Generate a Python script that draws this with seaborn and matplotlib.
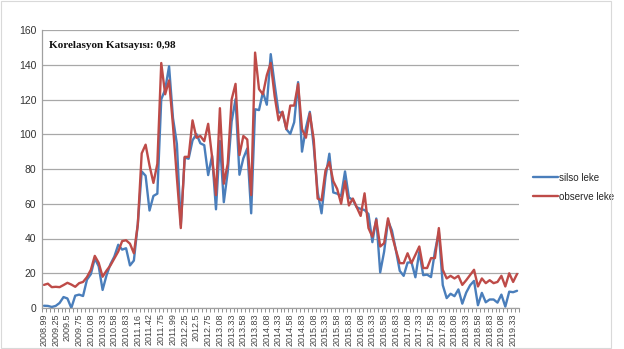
# Sunspot counts: SILSO vs observed, with correlation note
import numpy as np
import pandas as pd
import matplotlib
matplotlib.use('Agg')
import matplotlib.pyplot as plt
from matplotlib.patches import Rectangle
import seaborn as sns

silso_leke = [
    1.3, 1.2, 0.6, 1.2, 2.9, 6.3, 5.5, 0.0, 7.1, 7.7, 6.9, 16.3,
    19.5, 28.5, 24.0, 10.4, 18.8, 25.2, 29.6, 36.4, 33.6, 34.4, 24.5,
    27.3, 48.3, 78.6, 76.1, 56.1, 64.5, 65.8, 120.1, 125.7, 139.1, 109.3,
    94.4, 47.8, 86.6, 85.9, 96.5, 100.1, 94.8, 93.7, 76.5, 87.6, 56.8,
    96.1, 60.9, 78.3, 107.3, 120.2, 76.7, 86.2, 91.8, 54.5, 114.4, 113.9, 124.2,
    117.0, 146.1, 128.7, 112.5, 112.5, 102.9, 100.2, 106.9, 130.0, 90.0, 103.6, 112.9,
    93.0, 66.7, 54.5, 75.3, 88.8, 66.5, 65.8, 64.4, 78.6, 63.6, 62.2, 58.0,
    57.0, 56.4, 54.1, 37.9, 51.5, 20.5, 32.4, 50.2, 44.6, 33.4, 21.4, 18.5,
    26.1, 26.4, 17.7, 32.3, 18.9, 19.2, 17.8, 32.6, 43.7, 13.2, 5.7, 8.2,
    6.8, 10.7, 2.5, 8.9, 13.1, 15.6, 1.6, 8.7, 3.3, 4.9, 4.9, 3.1,
    7.7, 0.8, 9.4, 9.1, 9.9,
]

observe_leke = [
    13.3, 14, 12, 12.2, 12, 13.2, 14.5, 13.5, 12.2, 14.3, 15, 17.8,
    22, 30, 26, 18, 21.5, 24.5, 28.5, 32.5, 38.5, 39, 37, 31.5,
    48, 89, 94, 82, 72, 83, 141, 123, 131, 105, 75, 46,
    87, 87, 108, 98, 99, 96, 106, 87, 65, 115, 71.5, 83,
    120, 129, 88, 99, 97, 65, 147, 126, 123, 134, 141, 122,
    108, 113, 103, 116.5, 116.5, 129, 103, 98, 112, 97, 63, 62,
    79, 84, 73, 68.5, 60, 73, 59, 63, 58, 53, 66, 46,
    41, 50.7, 35.4, 37.3, 51.6, 42, 33.5, 25.8, 25.8, 31.5, 25.8, 30.6,
    35.4, 23, 23, 28.7, 28.7, 46, 22, 17, 18.5, 17, 18.5, 13.3,
    16, 19, 22, 12.4, 17, 14.3, 16, 14.3, 15, 18.5, 12.4, 20,
    15, 19.6,
]

tick_labels = [
    "2008.99", "2009.25", "2009.5", "2009.75", "2010.08", "2010.33", "2010.58",
    "2010.83", "2011.16", "2011.42", "2011.75", "2011.99", "2012.25", "2012.5",
    "2012.75", "2013.08", "2013.33", "2013.58", "2013.83", "2014.08", "2014.33",
    "2014.58", "2014.83", "2015.08", "2015.33", "2015.58", "2015.83", "2016.08",
    "2016.33", "2016.58", "2016.83", "2017.08", "2017.33", "2017.58", "2017.83",
    "2018.08", "2018.33", "2018.58", "2018.83", "2019.08", "2019.33",
]

series_names = ["silso leke", "observe leke"]
colors = ["#4a7ebb", "#be4b48"]

n = len(silso_leke)
idx = np.arange(n)
df = pd.concat([
    pd.DataFrame({'idx': idx, 'value': silso_leke, 'series': series_names[0]}),
    pd.DataFrame({'idx': idx, 'value': observe_leke, 'series': series_names[1]}),
])

sns.set_theme(style="white")
plt.rcParams['font.family'] = ['Liberation Sans', 'DejaVu Sans']

fig = plt.figure(figsize=(6.24, 3.49), dpi=100)
ax = fig.add_axes([42 / 624, 1 - 308 / 349, 477 / 624, 278 / 349])

sns.lineplot(data=df, x='idx', y='value', hue='series', palette=colors,
             linewidth=1.7, ax=ax, legend=True)

ax.set_xlim(-0.5, n - 0.5)
ax.set_ylim(0, 160)
ax.set_yticks(range(0, 161, 20))
ax.tick_params(axis='y', labelsize=7.5, length=0, pad=4, labelcolor='#333333')
ax.yaxis.grid(True, color='#a8a8a8', linewidth=0.9)
ax.set_axisbelow(True)

ax.set_xticks(np.arange(0, n, 3)[:len(tick_labels)])
ax.set_xticklabels(tick_labels, rotation=90, fontsize=6.5, color='#444444')
ax.set_xticks(np.arange(-0.5, n, 1), minor=True)
ax.tick_params(axis='x', which='major', length=0, pad=4)
ax.tick_params(axis='x', which='minor', length=3, width=0.7, color='#909090', direction='out', bottom=True)

ax.set_xlabel("")
ax.set_ylabel("")
for s in ['top', 'right']:
    ax.spines[s].set_visible(False)
for s in ['left', 'bottom']:
    ax.spines[s].set_color('#a0a0a0')
    ax.spines[s].set_linewidth(0.9)

handles, labels = ax.get_legend_handles_labels()
ax.legend(handles, labels, loc='upper left', bbox_to_anchor=(528 / 624, 1 - 168 / 349),
          bbox_transform=fig.transFigure, frameon=False, fontsize=7,
          handlelength=2.6, handletextpad=0.1, labelspacing=0.9, borderpad=0)

fig.text(49 / 624, 1 - 45 / 349, "Korelasyon Katsayısı: 0,98",
         family=['Liberation Serif', 'DejaVu Serif'], fontweight='bold',
         fontsize=8, va='center', ha='left', color='#111111')

fig.patches.append(Rectangle((0.002, 0.004), 979 / 1000 - 0.002, 0.992, transform=fig.transFigure,
                             fill=False, edgecolor='#d9d9d9', linewidth=0.8))

fig.savefig('out.png', dpi=100)
plt.close(fig)
